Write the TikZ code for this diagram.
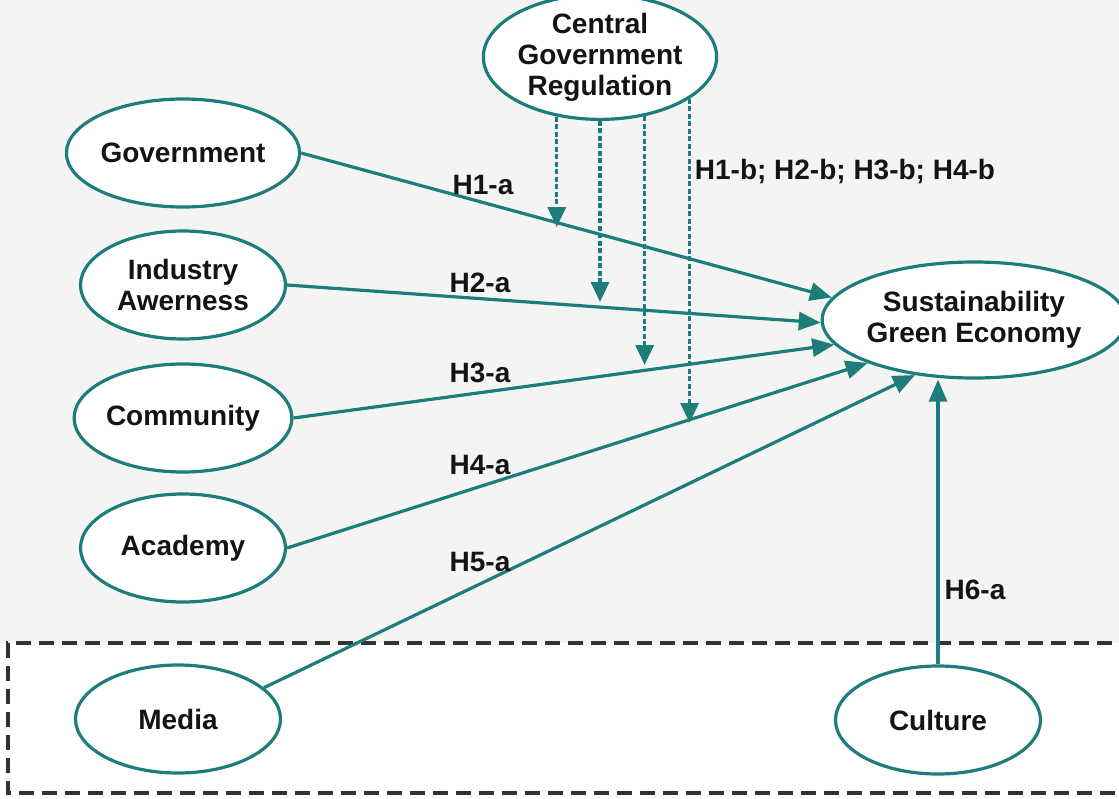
\documentclass[tikz,border=0pt]{standalone}
\usepackage{fontspec}
\setmainfont{Liberation Sans}
\usetikzlibrary{shapes.geometric,arrows.meta}
\definecolor{teal1}{RGB}{28,125,122}
\definecolor{bggray}{RGB}{244,244,244}
\definecolor{txt}{RGB}{20,20,20}
\begin{document}
\begin{tikzpicture}[x=1pt,y=-1pt,
  oval/.style={ellipse,draw=teal1,line width=3.2pt,fill=white,minimum width=205pt,minimum height=108pt,inner sep=0pt,align=center,font=\fontsize{28}{31}\selectfont\bfseries,text=txt},
  link/.style={draw=teal1,line width=3.2pt,-{Triangle[length=22pt,width=18pt]}},
  modarrow/.style={draw=teal1,line width=3.4pt,dash pattern=on 5pt off 2.5pt,-{Triangle[length=20pt,width=18pt]}},
  lbl/.style={font=\fontsize{28}{31}\selectfont\bfseries,text=txt,inner sep=0pt}]
\useasboundingbox (0,0) rectangle (1119,798);
\fill[white] (0,0) rectangle (1119,798);
\fill[bggray] (0,0) rectangle (1119,643);
\draw[black!80,line width=3.6pt,dash pattern=on 15pt off 8pt] (1135,643) -- (8,643) -- (8,793) -- (1135,793);

\node[oval,minimum width=208pt,minimum height=106pt] (cgr) at (600,57) {Central\\Government\\Regulation};
\node[oval] (gov) at (183,153) {Government};
\node[oval] (ind) at (183,285) {Industry\\Awerness};
\node[oval] (com) at (183,418) {Community};
\node[oval] (aca) at (183,548) {Academy};
\node[oval] (med) at (178,719) {Media};
\node[oval] (cul) at (938,720) {Culture};
\node[oval,minimum width=282pt,minimum height=116pt] (sge) at (974,320) {Sustainability\\Green Economy};

\draw[link] (gov.east) -- (sge.171);
\draw[link] (ind.east) -- (sge.181);
\draw[link] (com.east) -- (sge.190);
\draw[link] (aca.east) -- (sge.202);
\draw[link] (med.20) -- (sge.223);
\draw[link] (cul.north) -- (cul.north |- sge.south);

\coordinate (d1) at (565,227);
\coordinate (d2) at (600,302);
\coordinate (d3) at (638,365);
\coordinate (d4) at (677,423);
\draw[modarrow] (cgr.234.9) -- (cgr.234.9 |- d1);
\draw[modarrow] (cgr.270) -- (cgr.270 |- d2);
\draw[modarrow] (cgr.307.6) -- (cgr.307.6 |- d3);
\draw[modarrow] (cgr.335.2) -- (cgr.335.2 |- d4);

\node[lbl] (l1) at (483,185) {H1-a};
\node[lbl] (l2) at (480,283) {H2-a};
\node[lbl] (l3) at (480,373) {H3-a};
\node[lbl] (l4) at (480,465) {H4-a};
\node[lbl] (l5) at (480,562) {H5-a};
\node[lbl] (l6) at (975,590) {H6-a};
\node[lbl] (lb) at (845,172) {H1-b; H2-b; H3-b; H4-b};
\end{tikzpicture}
\end{document}
